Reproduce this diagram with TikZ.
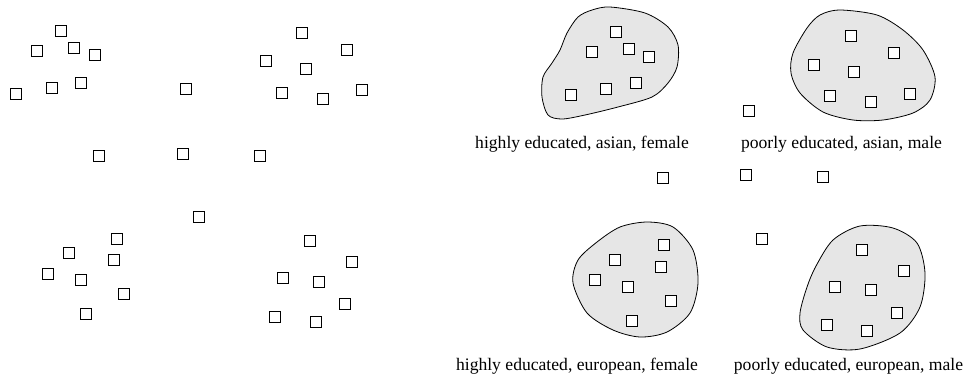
\documentclass[tikz,border=0pt]{standalone}
\usepackage{fontspec}
\setmainfont{Liberation Serif}
\usepackage{tikz}
\usetikzlibrary{calc}
\definecolor{blobgray}{RGB}{230,230,230}

\begin{document}
\begin{tikzpicture}[x=1pt,y=-1pt,
  obj/.style={draw=black,line width=0.9pt,fill=white,minimum size=11pt,inner sep=0pt},
  blob/.style={draw=black,line width=0.8pt,fill=blobgray},
  lbl/.style={font=\fontsize{17.6}{20}\selectfont,anchor=base,inner sep=0pt}]

\useasboundingbox (0,0) rectangle (965,376);

% ---- left: ungrouped objects ----
\node[obj] (haf1) at (61,31) {}; \node[obj] (haf2) at (37,51) {}; \node[obj] (haf3) at (74,48) {};
\node[obj] (haf4) at (95,55) {}; \node[obj] (haf5) at (16,94) {}; \node[obj] (haf6) at (52,88) {};
\node[obj] (haf7) at (81,83) {};

\node[obj] (pam1) at (302,33) {}; \node[obj] (pam2) at (347,50) {}; \node[obj] (pam3) at (266,61) {};
\node[obj] (pam4) at (306,69) {}; \node[obj] (pam5) at (282,93) {}; \node[obj] (pam6) at (323,99) {};
\node[obj] (pam7) at (362,90) {};

\node[obj] (odd1) at (186,89) {}; \node[obj] (odd2) at (99,156) {}; \node[obj] (odd3) at (183,154) {};
\node[obj] (odd4) at (260,156) {}; \node[obj] (odd5) at (199,217) {};

\node[obj] (hef1) at (117,239) {}; \node[obj] (hef2) at (69,253) {}; \node[obj] (hef3) at (114,260) {};
\node[obj] (hef4) at (48,274) {}; \node[obj] (hef5) at (81,280) {}; \node[obj] (hef6) at (124,294) {};
\node[obj] (hef7) at (86,314) {};

\node[obj] (pem1) at (310,241) {}; \node[obj] (pem2) at (352,262) {}; \node[obj] (pem3) at (283,278) {};
\node[obj] (pem4) at (319,282) {}; \node[obj] (pem5) at (345,304) {}; \node[obj] (pem6) at (275,317) {};
\node[obj] (pem7) at (316,322) {};

% ---- right: the same objects, grouped ----
\draw[blob] plot[smooth cycle] coordinates {(610,7) (645,13) (668,27) (678,45) (677,67) (668,83)
  (652,97) (618,107) (585,115) (562,119) (548,115) (542,97) (543,77) (552,63) (560,50) (567,33)
  (578,17) (592,10)};
\draw[blob] plot[smooth cycle] coordinates {(840,10) (877,15) (903,30) (923,50) (935,77) (930,100)
  (913,113) (883,120) (853,120) (823,112) (800,93) (791,73) (793,53) (807,28) (820,15)};
\draw[blob] plot[smooth cycle] coordinates {(597,242) (620,227) (647,222) (673,227) (693,250)
  (698,283) (690,313) (667,332) (640,337) (613,330) (587,313) (573,283) (578,260)};
\draw[blob] plot[smooth cycle] coordinates {(816,266) (833,240) (860,226) (893,228) (917,243)
  (925,273) (920,307) (900,333) (860,349) (827,347) (803,330) (800,313) (807,287)};

\node[obj] (ghaf1) at (616,32) {}; \node[obj] (ghaf2) at (592,52) {}; \node[obj] (ghaf3) at (629,49) {};
\node[obj] (ghaf4) at (649,57) {}; \node[obj] (ghaf5) at (571,95) {}; \node[obj] (ghaf6) at (606,89) {};
\node[obj] (ghaf7) at (636,83) {};

\node[obj] (gpam1) at (851,36) {}; \node[obj] (gpam2) at (894,53) {}; \node[obj] (gpam3) at (814,65) {};
\node[obj] (gpam4) at (854,72) {}; \node[obj] (gpam5) at (830,96) {}; \node[obj] (gpam6) at (871,102) {};
\node[obj] (gpam7) at (910,94) {};

\node[obj] (godd1) at (749,111) {}; \node[obj] (godd2) at (663,178) {}; \node[obj] (godd3) at (746,175) {};
\node[obj] (godd4) at (823,177) {}; \node[obj] (godd5) at (762,239) {};

\node[obj] (ghef1) at (664,245) {}; \node[obj] (ghef2) at (615,260) {}; \node[obj] (ghef3) at (661,267) {};
\node[obj] (ghef4) at (595,280) {}; \node[obj] (ghef5) at (628,287) {}; \node[obj] (ghef6) at (671,301) {};
\node[obj] (ghef7) at (632,321) {};

\node[obj] (gpem1) at (862,250) {}; \node[obj] (gpem2) at (904,271) {}; \node[obj] (gpem3) at (835,287) {};
\node[obj] (gpem4) at (871,290) {}; \node[obj] (gpem5) at (897,313) {}; \node[obj] (gpem6) at (827,325) {};
\node[obj] (gpem7) at (867,331) {};

% labels
\node[lbl] (lblhaf) at (582,148) {highly educated, asian, female};
\node[lbl] (lblpam) at (841.5,148) {poorly educated, asian, male};
\node[lbl] (lblhef) at (577,370) {highly educated, european, female};
\node[lbl] (lblpem) at (848.5,370) {poorly educated, european, male};
\end{tikzpicture}
\end{document}
